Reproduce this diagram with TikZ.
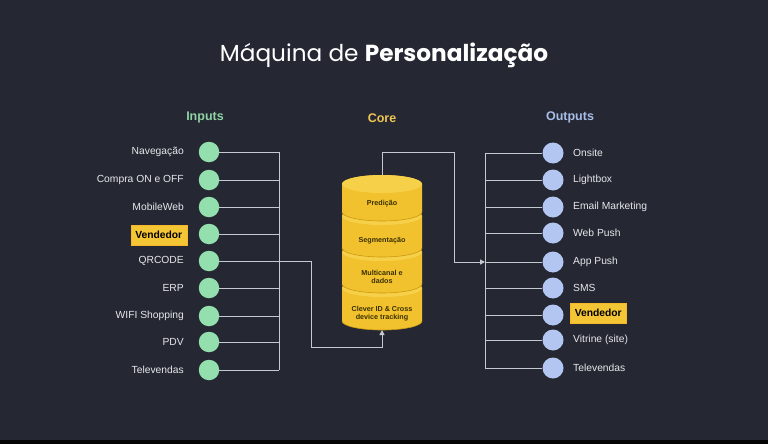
\documentclass[tikz,border=0pt]{standalone}
\usepackage{fontspec}
\setmainfont{Liberation Sans}
\newfontfamily\titlefont{Poppins}
\usetikzlibrary{arrows.meta}
\definecolor{bg}{HTML}{252833}
\definecolor{ingreen}{HTML}{93DFAE}
\definecolor{outblue}{HTML}{B3C6F2}
\definecolor{cyl}{HTML}{F2C22E}
\definecolor{cyltopc}{HTML}{F7D04A}
\definecolor{cyledge}{HTML}{C99A12}
\definecolor{wirec}{HTML}{C5C9D0}
\definecolor{hin}{HTML}{8FD3A3}
\definecolor{hout}{HTML}{A8BDE8}
\definecolor{hcore}{HTML}{F0C552}
\definecolor{vend}{HTML}{F4C534}
\definecolor{txt}{HTML}{E6E8EC}
\definecolor{cyltxt}{HTML}{3A3000}
\tikzset{
  x=1pt,y=1pt,
  wire/.style={draw=wirec,line width=1pt},
  arr/.style={wire,-{Triangle[length=5pt,width=5pt]}},
  incirc/.style={circle,fill=ingreen,minimum size=20.5pt,inner sep=0pt},
  outcirc/.style={circle,fill=outblue,minimum size=21pt,inner sep=0pt},
  inlabel/.style={anchor=east,text=txt,font=\fontsize{10.3}{12}\selectfont,inner sep=3pt},
  outlabel/.style={anchor=west,text=txt,font=\fontsize{10.3}{12}\selectfont,inner sep=3pt},
  vendbox/.style={fill=vend,draw=vend!80!orange,line width=0.5pt,text=black,font=\fontsize{10.3}{12}\selectfont\bfseries,inner xsep=4.5pt,inner ysep=3pt,minimum height=20pt},
  header/.style={font=\fontsize{12.5}{14}\selectfont\bfseries},
  cyltext/.style={text=cyltxt,font=\fontsize{7.2}{8.4}\selectfont\bfseries,align=center},
}
\newcommand{\cylseg}[2]{%
  \fill[cyl] (342,-#1) -- (342,-#2) arc[start angle=180,end angle=360,x radius=40pt,y radius=9pt] -- (422,-#1) arc[start angle=0,end angle=180,x radius=40pt,y radius=9pt] -- cycle;
  \draw[cyledge,line width=0.6pt] (342,-#2) arc[start angle=180,end angle=360,x radius=40pt,y radius=9pt];
  \fill[cyltopc] (382,-#1) ellipse [x radius=40pt,y radius=9pt];
}
\begin{document}
\begin{tikzpicture}
\fill[bg] (0,0) rectangle (768,-444);
\fill[black!90!bg] (0,-440) rectangle (768,-444);
\useasboundingbox (0,0) rectangle (768,-444);

% title
\node[text=white,font=\titlefont\fontsize{23.2}{27}\selectfont] (title) at (384,-55) {Máquina de \textbf{Personalização}};

% headers
\node[header,text=hin] (hin) at (205,-117) {Inputs};
\node[header,text=hcore] (hcore) at (382,-118) {Core};
\node[header,text=hout] (hout) at (570,-117) {Outputs};

% inputs
\foreach \i/\y/\t in {1/152/Navegação,2/180/Compra ON e OFF,3/207/MobileWeb,5/261/QRCODE,6/288/ERP,7/316/WIFI Shopping,8/342/PDV,9/370/Televendas}{
  \node[incirc] (in\i) at (209,-\y) {};
  \node[inlabel] (inl\i) at (187,-\y) {\t};
}
\node[incirc] (in4) at (209,-234) {};
\node[vendbox,anchor=east] (inl4) at (187,-235) {Vendedor};

% outputs
\foreach \i/\y/\t in {1/153/Onsite,2/180/Lightbox,3/207/Email Marketing,4/233/Web Push,5/262/App Push,6/288/SMS,8/340/Vitrine (site),9/368/Televendas}{
  \node[outcirc] (out\i) at (553,-\y) {};
  \node[outlabel] (outl\i) at (570,-\y) {\t};
}
\node[outcirc] (out7) at (553,-315) {};
\node[vendbox,anchor=west] (outl7) at (570,-313) {Vendedor};

% input bus
\coordinate (ibt) at (279,-152);
\coordinate (ibb) at (279,-370);
\draw[wire] (ibt) -- (ibb);
\foreach \i in {1,...,9}{ \draw[wire] (in\i) -- (in\i -| ibt); }

% output bus
\coordinate (obt) at (485,-153);
\coordinate (obb) at (485,-368);
\draw[wire] (obt) -- (obb);
\foreach \i in {1,...,9}{ \draw[wire] (out\i -| obt) -- (out\i); }

% cylinder
\cylseg{288}{321}
\cylseg{252}{284}
\cylseg{216}{248}
\cylseg{184}{212}
\coordinate (cyltop) at (382,-175);
\coordinate (cylbot) at (382,-330);
\node[cyltext] (c1) at (382,-204) {Predição};
\node[cyltext] (c2) at (382,-241) {Segmentação};
\node[cyltext] (c3) at (382,-277) {Multicanal e\\dados};
\node[cyltext] (c4) at (382,-313.5) {Clever ID \& Cross\\device tracking};

% connectors
\coordinate (qa) at (311,-261);
\coordinate (qb) at (382,-347);
\draw[arr] (in5) -- (qa) |- (qb) -- (cylbot);
\coordinate (oa) at (382,-152);
\coordinate (ob) at (454,-262);
\draw[arr] (cyltop) -- (oa) -| (ob) -- (ob -| obt);
\end{tikzpicture}
\end{document}
